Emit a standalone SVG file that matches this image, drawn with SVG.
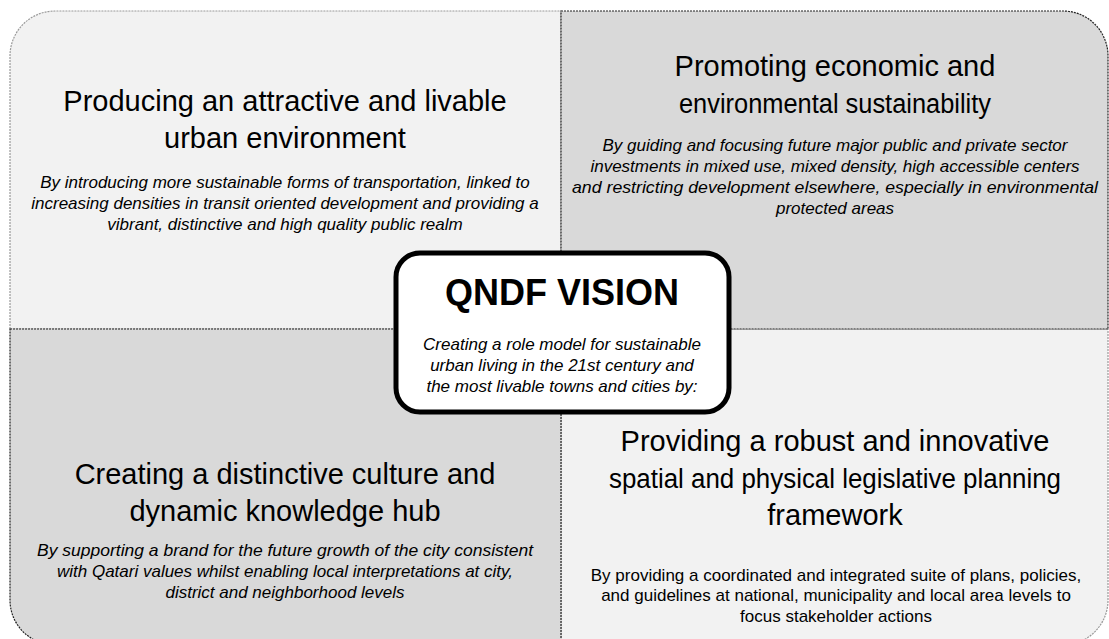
<svg xmlns="http://www.w3.org/2000/svg" width="1109" height="639" viewBox="0 0 1109 639">
<style>
.light{fill:#f2f2f2;stroke:#9a9a9a;stroke-width:1.2;stroke-dasharray:2 1}
.dark{fill:#d9d9d9;stroke:#222;stroke-width:1.2;stroke-dasharray:2 1}
.title{font-family:"Liberation Sans",Arial,sans-serif;font-size:29px;fill:#000;text-anchor:middle}
.body{font-family:"Liberation Sans",Arial,sans-serif;font-size:17px;font-style:italic;fill:#000;text-anchor:middle}
.bodyn{font-family:"Liberation Sans",Arial,sans-serif;font-size:17px;fill:#000;text-anchor:middle}
.vt{font-family:"Liberation Sans",Arial,sans-serif;font-size:36px;font-weight:bold;fill:#000;text-anchor:middle}
</style>
<g id="q-top-left">
<path class="light" d="M10,329 V56 A45,45 0 0 1 55,11 H561 V329 Z"/>
<text class="title" x="285" y="111">Producing an attractive and livable</text>
<text class="title" x="285" y="148">urban environment</text>
<text class="body" x="285" y="188">By introducing more sustainable forms of transportation, linked to</text>
<text class="body" x="285" y="209">increasing densities in transit oriented development and providing a</text>
<text class="body" x="285" y="230">vibrant, distinctive and high quality public realm</text>
</g>
<g id="q-bottom-right">
<path class="light" d="M561,329 H1108 V600 A45,45 0 0 1 1063,645 H561 Z"/>
<text class="title" x="835" y="451">Providing a robust and innovative</text>
<text class="title" x="835" y="488" style="font-size:27px" textLength="452" lengthAdjust="spacingAndGlyphs">spatial and physical legislative planning</text>
<text class="title" x="835" y="525">framework</text>
<text class="bodyn" x="836" y="581">By providing a coordinated and integrated suite of plans, policies,</text>
<text class="bodyn" x="836" y="601">and guidelines at national, municipality and local area levels to</text>
<text class="bodyn" x="836" y="622">focus stakeholder actions</text>
</g>
<g id="q-top-right">
<path class="dark" d="M561,11 H1063 A45,45 0 0 1 1108,56 V329 H561 Z"/>
<text class="title" x="835" y="76">Promoting economic and</text>
<text class="title" x="835" y="113" style="font-size:27px" textLength="312" lengthAdjust="spacingAndGlyphs">environmental sustainability</text>
<text class="body" x="835" y="151">By guiding and focusing future major public and private sector</text>
<text class="body" x="835" y="172">investments in mixed use, mixed density, high accessible centers</text>
<text class="body" x="835" y="193" textLength="526" lengthAdjust="spacingAndGlyphs">and restricting development elsewhere, especially in environmental</text>
<text class="body" x="835" y="214">protected areas</text>
</g>
<g id="q-bottom-left">
<path class="dark" d="M10,329 H561 V645 H55 A45,45 0 0 1 10,600 Z"/>
<text class="title" x="285" y="484">Creating a distinctive culture and</text>
<text class="title" x="285" y="521">dynamic knowledge hub</text>
<text class="body" x="285" y="556" textLength="496" lengthAdjust="spacingAndGlyphs">By supporting a brand for the future growth of the city consistent</text>
<text class="body" x="285" y="577">with Qatari values whilst enabling local interpretations at city,</text>
<text class="body" x="285" y="598">district and neighborhood levels</text>
</g>
<g id="center-vision">
<rect x="396" y="253" width="333" height="159" rx="24" fill="#fff" stroke="#000" stroke-width="5"/>
<text class="vt" x="562" y="305">QNDF VISION</text>
<text class="body" x="562" y="350">Creating a role model for sustainable</text>
<text class="body" x="562" y="371">urban living in the 21st century and</text>
<text class="body" x="562" y="392">the most livable towns and cities by:</text>
</g>
</svg>
